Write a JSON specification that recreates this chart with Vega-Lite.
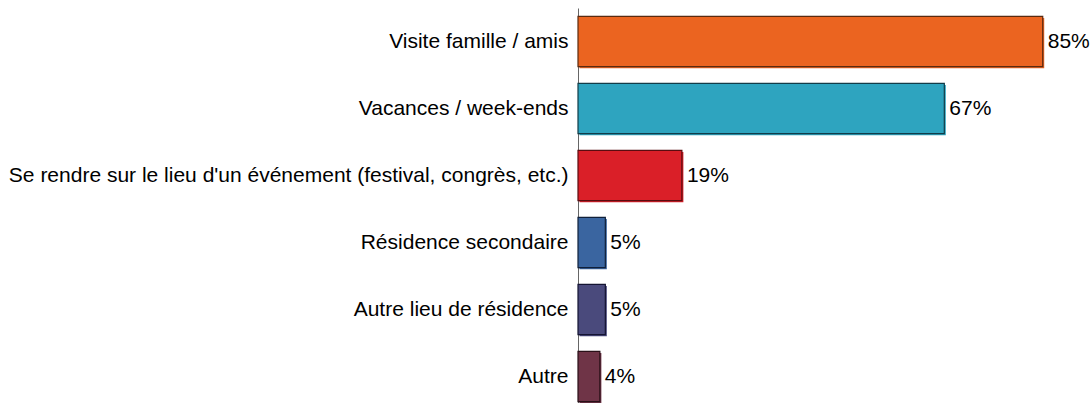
{
  "$schema": "https://vega.github.io/schema/vega-lite/v6.json",
  "width": 503,
  "height": 402,
  "padding": {"left": 8, "top": 8, "right": 0, "bottom": 0},
  "background": "white",
  "config": {"view": {"stroke": null}, "font": "Liberation Sans"},
  "data": {"values": [
    {"cat": "Visite famille / amis", "pct": 85, "label": "85%", "color": "#EB6420", "edge": "#5a2a10"},
    {"cat": "Vacances / week-ends", "pct": 67, "label": "67%", "color": "#2EA4BF", "edge": "#123c48"},
    {"cat": "Se rendre sur le lieu d'un événement (festival, congrès, etc.)", "pct": 19, "label": "19%", "color": "#DA1F28", "edge": "#5a0c10"},
    {"cat": "Résidence secondaire", "pct": 5, "label": "5%", "color": "#3A65A0", "edge": "#10203a"},
    {"cat": "Autre lieu de résidence", "pct": 5, "label": "5%", "color": "#4A4A7C", "edge": "#141432"},
    {"cat": "Autre", "pct": 4, "label": "4%", "color": "#6F3447", "edge": "#2a1018"}
  ]},
  "encoding": {
    "y": {"field": "cat", "type": "nominal", "sort": null,
      "scale": {"paddingInner": 0.25, "paddingOuter": 0.125},
      "axis": {"title": null, "ticks": false, "labelFontSize": 21, "labelColor": "#000000", "labelPadding": 10, "domainColor": "#666666", "domainWidth": 1, "labelLimit": 800, "labelFont": "Liberation Sans"}},
    "x": {"field": "pct", "type": "quantitative", "scale": {"domain": [0, 92], "nice": false}, "axis": null}
  },
  "layer": [
    {"mark": {"type": "bar", "xOffset": 1.5, "yOffset": 1.5}, "encoding": {"color": {"field": "color", "type": "nominal", "scale": null}}},
    {"mark": {"type": "bar", "strokeWidth": 1.2}, "encoding": {"color": {"field": "color", "type": "nominal", "scale": null}, "stroke": {"field": "edge", "type": "nominal", "scale": null}}},
    {"mark": {"type": "text", "align": "left", "baseline": "middle", "dx": 5, "fontSize": 21, "font": "Liberation Sans", "color": "#000000"}, "encoding": {"text": {"field": "label"}}}
  ]
}
